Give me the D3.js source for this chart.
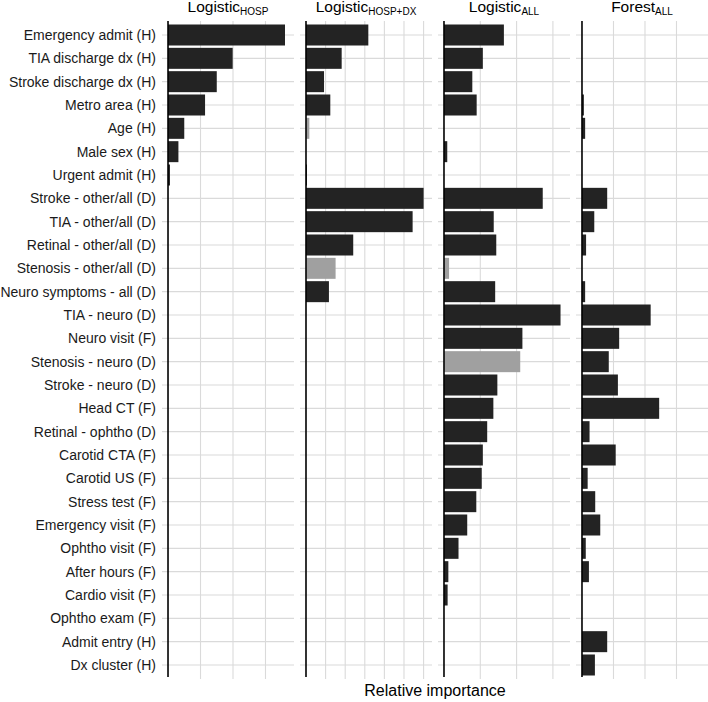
<!DOCTYPE html>
<html>
<head>
<meta charset="utf-8">
<script src="https://cdn.jsdelivr.net/npm/d3@7"></script>
<style>
  body { margin: 0; background: #fff; }
  text { font-family: "Liberation Sans", Arial, sans-serif; }
</style>
</head>
<body>
<div id="viz"></div>
<script>
var categories = [
  'Emergency admit (H)', 'TIA discharge dx (H)', 'Stroke discharge dx (H)', 'Metro area (H)',
  'Age (H)', 'Male sex (H)', 'Urgent admit (H)', 'Stroke - other/all (D)', 'TIA - other/all (D)',
  'Retinal - other/all (D)', 'Stenosis - other/all (D)', 'Neuro symptoms - all (D)',
  'TIA - neuro (D)', 'Neuro visit (F)', 'Stenosis - neuro (D)', 'Stroke - neuro (D)',
  'Head CT (F)', 'Retinal - ophtho (D)', 'Carotid CTA (F)', 'Carotid US (F)', 'Stress test (F)',
  'Emergency visit (F)', 'Ophtho visit (F)', 'After hours (F)', 'Cardio visit (F)',
  'Ophtho exam (F)', 'Admit entry (H)', 'Dx cluster (H)'
];

var models = ['Logistic', 'Logistic', 'Logistic', 'Forest'];
var subscripts = ['HOSP', 'HOSP+DX', 'ALL', 'ALL'];

// relative importance per model (same order as categories)
var logisticHosp = [3.6, 1.99, 1.5, 1.14, 0.5, 0.32, 0.06, 0, 0, 0, 0, 0, 0, 0,
  0, 0, 0, 0, 0, 0, 0, 0, 0, 0, 0, 0, 0, 0];
var logisticHospDx = [3.18, 1.82, 0.92, 1.24, 0.17, 0, 0.05, 6.0, 5.44, 2.41, 1.51, 1.17, 0, 0,
  0, 0, 0, 0, 0, 0, 0, 0, 0, 0, 0, 0, 0, 0];
var logisticAll = [1.65, 1.07, 0.78, 0.9, 0, 0.09, 0, 2.72, 1.37, 1.44, 0.14, 1.41, 3.21, 2.16,
  2.1, 1.47, 1.36, 1.19, 1.07, 1.04, 0.89, 0.64, 0.4, 0.12, 0.1, 0, 0, 0];
var forestAll = [0, 0, 0, 0.06, 0.1, 0, 0, 0.8, 0.39, 0.13, 0, 0.1, 2.18, 1.18,
  0.85, 1.14, 2.45, 0.24, 1.07, 0.18, 0.42, 0.58, 0.12, 0.22, 0, 0, 0.8, 0.41];

// bars shown in grey
var greyBars = [[], ['Age (H)', 'Stenosis - other/all (D)'],
  ['Stenosis - other/all (D)', 'Stenosis - neuro (D)'], []];

var series = [logisticHosp, logisticHospDx, logisticAll, forestAll];

var width = 708, height = 702;
var panelW = 132, panelPitch = 138, firstLeft = 162;
var plotTop = 21, plotBottom = 679;
// x domains per panel (incl. 5% expansion), grid every unit
var domains = [[-0.185, 3.877], [-0.306, 6.429], [-0.165, 3.471], [-0.19, 4.0]];

var svg = d3.select('#viz').append('svg')
  .attr('width', width)
  .attr('height', height);

var y = d3.scalePoint()
  .domain(categories)
  .range([plotTop, plotBottom])
  .padding(0.6);
var barH = y.step() * 0.9;

// category labels
svg.append('g').selectAll('text').data(categories)
  .enter().append('text')
    .attr('x', 156)
    .attr('y', function(d) { return y(d); })
    .attr('dy', '0.35em')
    .attr('text-anchor', 'end')
    .style('font-size', '14px')
    .style('fill', '#1a1a1a')
    .text(function(d) { return d; });

series.forEach(function(vals, p) {
  var left = firstLeft + p * panelPitch;
  var x = d3.scaleLinear().domain(domains[p]).range([left, left + panelW]);
  var g = svg.append('g');

  // vertical grid
  var ticks = d3.range(1, Math.floor(domains[p][1]) + 1).filter(function(t) {
    return x(t) < left + panelW - 1;
  });
  g.selectAll('line.vg').data(ticks)
    .enter().append('line')
      .attr('class', 'vg')
      .attr('x1', function(d) { return x(d); })
      .attr('x2', function(d) { return x(d); })
      .attr('y1', plotTop).attr('y2', plotBottom)
      .style('stroke', '#dadada')
      .style('stroke-width', 1.1);

  // horizontal grid
  g.selectAll('line.hg').data(categories)
    .enter().append('line')
      .attr('class', 'hg')
      .attr('x1', left).attr('x2', left + panelW)
      .attr('y1', function(d) { return y(d); })
      .attr('y2', function(d) { return y(d); })
      .style('stroke', '#dadada')
      .style('stroke-width', 1.1);

  // bars
  g.selectAll('rect').data(categories)
    .enter().append('rect')
      .attr('x', x(0))
      .attr('y', function(d) { return y(d) - barH / 2; })
      .attr('height', barH)
      .attr('width', function(d, i) { return x(vals[i]) - x(0); })
      .style('fill', function(d) {
        return greyBars[p].indexOf(d) >= 0 ? '#a0a0a0' : '#232323';
      });

  // zero line
  g.append('line')
    .attr('x1', x(0)).attr('x2', x(0))
    .attr('y1', plotTop).attr('y2', plotBottom - 2)
    .style('stroke', '#000')
    .style('stroke-width', 1.6);

  // title with subscript
  var t = g.append('text')
    .attr('x', left + panelW / 2)
    .attr('y', 12)
    .attr('text-anchor', 'middle')
    .style('font-size', '15.5px')
    .style('fill', '#000');
  t.append('tspan').text(models[p]);
  t.append('tspan')
    .attr('dy', 3)
    .style('font-size', '10px')
    .text(subscripts[p]);
});

svg.append('text')
  .attr('x', 435)
  .attr('y', 696)
  .attr('text-anchor', 'middle')
  .style('font-size', '16px')
  .style('fill', '#000')
  .text('Relative importance');
</script>
</body>
</html>
